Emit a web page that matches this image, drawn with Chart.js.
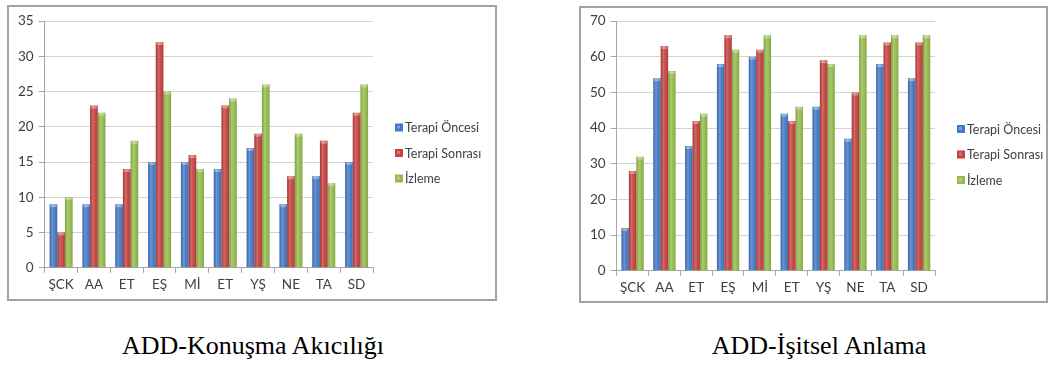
<!DOCTYPE html>
<html>
<head>
<meta charset="utf-8">
<script src="https://cdn.jsdelivr.net/npm/chart.js@4/dist/chart.umd.min.js"></script>
<style>
  html, body { margin: 0; padding: 0; }
  body { width: 1057px; height: 365px; background: #fff; position: relative; overflow: hidden; }
  .box { position: absolute; border: 2px solid #a3a3a3; background: #fff; }
  .box canvas { display: block; }
  .cap {
    position: absolute;
    font-family: "Liberation Serif", "Times New Roman", serif;
    font-size: 26px; line-height: 26px; color: #000;
    white-space: nowrap; transform: translateX(-50%);
  }
</style>
</head>
<body>
<div class="box" style="left:7px;top:5px;width:486px;height:292px"><canvas id="akicilik" width="486" height="292"></canvas></div>
<div class="box" style="left:579px;top:6px;width:465px;height:293px"><canvas id="anlama" width="465" height="293"></canvas></div>
<div class="cap" style="left:253px;top:333px">ADD-Konuşma Akıcılığı</div>
<div class="cap" style="left:819px;top:333px">ADD-İşitsel Anlama</div>

<script>
// Participants (x categories) and the three measurement phases
const categories = ['ŞCK', 'AA', 'ET', 'EŞ', 'Mİ', 'ET', 'YŞ', 'NE', 'TA', 'SD'];
const seriesNames = ['Terapi Öncesi', 'Terapi Sonrası', 'İzleme'];

// ADD - Konuşma Akıcılığı scores
const akicilikOncesi  = [9, 9, 9, 15, 15, 14, 17, 9, 13, 15];
const akicilikSonrasi = [5, 23, 14, 32, 16, 23, 19, 13, 18, 22];
const akicilikIzleme  = [10, 22, 18, 25, 14, 24, 26, 19, 12, 26];
const akicilikAxis    = { max: 35, step: 5 };

// ADD - İşitsel Anlama scores
const anlamaOncesi  = [12, 54, 35, 58, 60, 44, 46, 37, 58, 54];
const anlamaSonrasi = [28, 63, 42, 66, 62, 42, 59, 50, 64, 64];
const anlamaIzleme  = [32, 56, 44, 62, 66, 46, 58, 66, 66, 66];
const anlamaAxis    = { max: 70, step: 10 };

const seriesColors = ['#4478c4', '#c4423f', '#95bb4c'];
const tickFont = { family: 'Lato, "Open Sans", sans-serif', size: 13.5 };
const legendFont = 'Lato, "Open Sans", sans-serif';

// Cylinder-like shading over each bar, using the bar geometry computed by Chart.js
const barShade = {
  id: 'barShade',
  afterDatasetsDraw(chart) {
    const ctx = chart.ctx;
    chart.data.datasets.forEach((ds, di) => {
      const meta = chart.getDatasetMeta(di);
      meta.data.forEach(bar => {
        const { x, y, base, width } = bar.getProps(['x', 'y', 'base', 'width'], true);
        const l = x - width / 2, r = x + width / 2;
        const g = ctx.createLinearGradient(l, 0, r, 0);
        g.addColorStop(0, 'rgba(0,0,0,0.10)');
        g.addColorStop(0.35, 'rgba(255,255,255,0.22)');
        g.addColorStop(0.6, 'rgba(255,255,255,0.06)');
        g.addColorStop(1, 'rgba(0,0,0,0.14)');
        ctx.save();
        ctx.fillStyle = g;
        ctx.fillRect(l, y, width, base - y);
        // lighter cap on top of the bar
        ctx.fillStyle = 'rgba(255,255,255,0.35)';
        ctx.beginPath();
        ctx.ellipse(x, y + 1.5, width / 2 - 0.5, 1.5, 0, 0, Math.PI * 2);
        ctx.fill();
        ctx.restore();
      });
    });
  }
};

// Legend drawn beside the plot area, vertically centred on the canvas
const sideLegend = {
  id: 'sideLegend',
  afterDraw(chart, args, opts) {
    const ctx = chart.ctx;
    const x0 = chart.chartArea.right + opts.offset;
    const cy = chart.height / 2;
    ctx.save();
    ctx.font = '12.5px ' + legendFont;
    ctx.textBaseline = 'middle';
    ctx.textAlign = 'left';
    chart.data.datasets.forEach((ds, i) => {
      const yc = cy + (i - 1) * 25.5;
      ctx.fillStyle = ds.backgroundColor;
      ctx.fillRect(x0, yc - 4, 8, 8);
      ctx.fillStyle = 'rgba(255,255,255,0.28)';
      ctx.fillRect(x0 + 2, yc - 2, 3, 3);
      ctx.fillStyle = '#404040';
      ctx.fillText(ds.label, x0 + 10, yc + 0.5);
    });
    ctx.restore();
  }
};

function makeChart(id, series, axis, padding) {
  return new Chart(document.getElementById(id), {
    type: 'bar',
    data: {
      labels: categories,
      datasets: series.map((vals, i) => ({
        label: seriesNames[i],
        data: vals,
        backgroundColor: seriesColors[i],
        borderWidth: 0,
        categoryPercentage: 0.7,
        barPercentage: 1.0
      }))
    },
    options: {
      responsive: false,
      animation: false,
      devicePixelRatio: 1,
      layout: { padding },
      plugins: {
        legend: { display: false },
        tooltip: { enabled: false },
        sideLegend: { offset: 22 }
      },
      scales: {
        x: {
          offset: true,
          grid: { drawOnChartArea: false, drawTicks: true, tickLength: 5, tickColor: '#a6a6a6', offset: true },
          border: { color: '#a6a6a6' },
          ticks: { color: '#404040', font: tickFont, padding: 4, maxRotation: 0, autoSkip: false }
        },
        y: {
          min: 0,
          max: axis.max,
          grid: { color: '#d4d4d4', tickLength: 6, tickColor: '#a6a6a6' },
          border: { color: '#a6a6a6' },
          ticks: { stepSize: axis.step, color: '#404040', font: tickFont, padding: 5 }
        }
      }
    },
    plugins: [barShade, sideLegend]
  });
}

makeChart('akicilik', [akicilikOncesi, akicilikSonrasi, akicilikIzleme], akicilikAxis,
  { left: 4, top: 14, right: 122, bottom: 2 });
makeChart('anlama', [anlamaOncesi, anlamaSonrasi, anlamaIzleme], anlamaAxis,
  { left: 4, top: 13, right: 111, bottom: 1 });
</script>
</body>
</html>
